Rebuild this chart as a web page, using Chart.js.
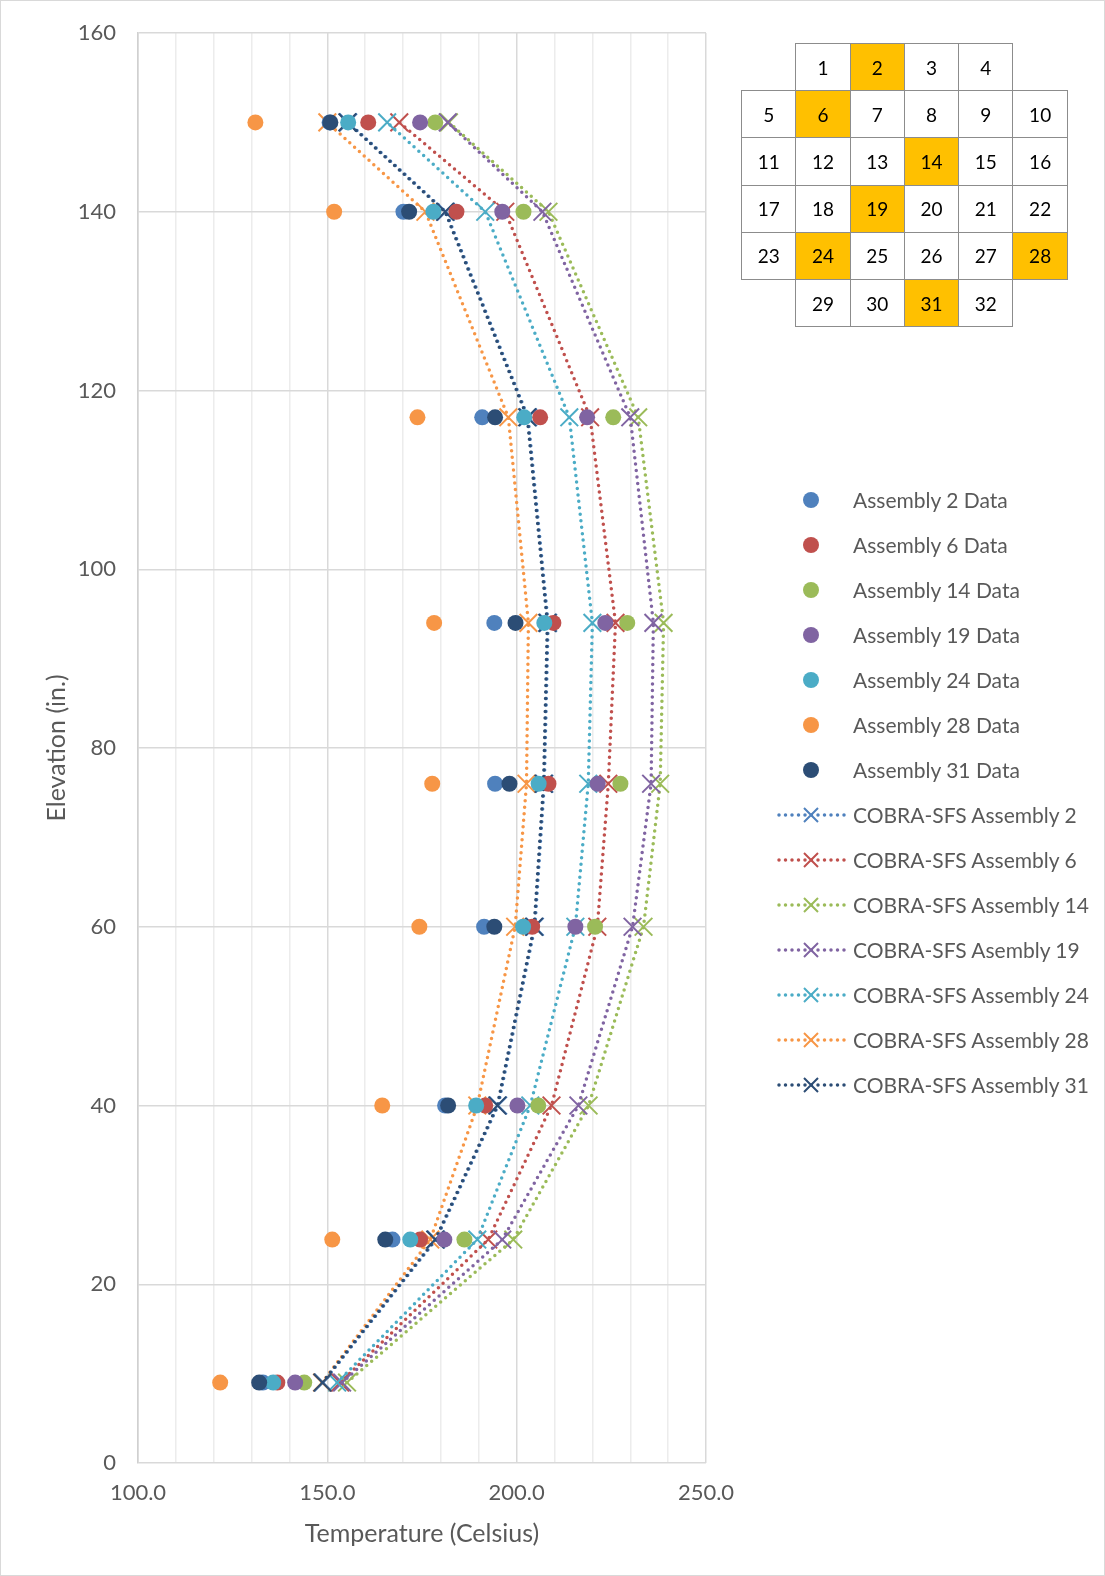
<!DOCTYPE html>
<html>
<head>
<meta charset="utf-8">
<script src="https://cdn.jsdelivr.net/npm/chart.js@4.4.1/dist/chart.umd.min.js"></script>
<style>
html,body{margin:0;padding:0;background:#fff;}
#wrap{position:relative;width:1105px;height:1576px;overflow:hidden;font-family:Lato,"Liberation Sans",sans-serif;}
#c{position:absolute;left:0;top:0;}
#frame{position:absolute;left:0;top:0;width:1105px;height:1576px;box-sizing:border-box;border:1px solid #d9d9d9;pointer-events:none;}
#map{position:absolute;left:741px;top:43px;border-collapse:collapse;font-size:19px;color:#000;}
#map td{width:53.3px;height:46.2px;padding:0;text-align:center;vertical-align:middle;border:1px solid #8c8c8c;background:#fff;}
#map td.e{border:none;background:transparent;}
#map td.h{background:#ffc000;}
#legend{position:absolute;left:775px;top:477px;}
.row{position:relative;height:45px;display:flex;align-items:center;}
.row svg{width:72px;height:24px;flex:none;}
.row span{margin-left:6px;font-size:21px;color:#595959;white-space:nowrap;}
</style>
</head>
<body>
<div id="wrap">
<canvas id="c" width="1105" height="1576"></canvas>
<table id="map"></table>
<div id="legend"></div>
<div id="frame"></div>
</div>
<script>
// ---- data ----
const elevations = [9, 25, 40, 60, 76, 94, 117, 140, 150];

const dataA2  = [133.0, 167.2, 181.1, 191.4, 194.3, 194.1, 190.9, 170.1, 150.6];
const dataA6  = [136.8, 174.5, 191.7, 204.1, 208.4, 209.7, 206.2, 184.1, 160.8];
const dataA14 = [143.9, 186.2, 205.7, 220.7, 227.4, 229.2, 225.5, 201.8, 178.5];
const dataA19 = [141.5, 180.9, 200.2, 215.5, 221.4, 223.4, 218.6, 196.2, 174.5];
const dataA24 = [135.7, 171.9, 189.3, 201.7, 205.8, 207.3, 202.0, 178.0, 155.5];
const dataA28 = [121.7, 151.3, 164.5, 174.3, 177.7, 178.2, 173.8, 151.8, 131.0];
const dataA31 = [132.0, 165.3, 181.9, 194.1, 198.1, 199.7, 194.3, 171.6, 150.8];

const cobraA2  = [148.9, 178.7, 195.1, 204.8, 207.3, 208.3, 203.0, 181.3, 155.5];
const cobraA6  = [153.4, 192.5, 209.2, 221.3, 224.2, 226.1, 219.4, 197.0, 169.0];
const cobraA14 = [155.2, 199.1, 219.0, 233.5, 237.9, 238.8, 232.1, 208.4, 182.1];
const cobraA19 = [153.9, 196.2, 216.3, 230.6, 235.5, 236.1, 230.0, 206.8, 181.8];
const cobraA24 = [152.6, 189.6, 203.6, 215.5, 218.9, 220.0, 213.9, 191.7, 165.8];
const cobraA28 = [148.6, 177.2, 189.6, 199.6, 202.6, 203.1, 197.8, 175.9, 150.0];
const cobraA31 = [148.7, 178.5, 194.9, 204.6, 207.1, 208.1, 202.8, 181.1, 155.3];

const dataLabels  = ["Assembly 2 Data", "Assembly 6 Data", "Assembly 14 Data", "Assembly 19 Data", "Assembly 24 Data", "Assembly 28 Data", "Assembly 31 Data"];
const cobraLabels = ["COBRA-SFS Assembly 2", "COBRA-SFS Assembly 6", "COBRA-SFS Assembly 14", "COBRA-SFS Asembly 19", "COBRA-SFS Assembly 24", "COBRA-SFS Assembly 28", "COBRA-SFS Assembly 31"];
const colors = ["#4f81bd", "#c0504d", "#9bbb59", "#8064a2", "#4bacc6", "#f79646", "#2c4d75"];

const xTickLabels = [100, 150, 200, 250];
const yTicks = [0, 20, 40, 60, 80, 100, 120, 140, 160];

const mapRows = [
  [null, 1, 2, 3, 4, null],
  [5, 6, 7, 8, 9, 10],
  [11, 12, 13, 14, 15, 16],
  [17, 18, 19, 20, 21, 22],
  [23, 24, 25, 26, 27, 28],
  [null, 29, 30, 31, 32, null]
];
const highlighted = [2, 6, 14, 19, 24, 28, 31];

// ---- build ----
const dataSeries = [dataA2, dataA6, dataA14, dataA19, dataA24, dataA28, dataA31];
const cobraSeries = [cobraA2, cobraA6, cobraA14, cobraA19, cobraA24, cobraA28, cobraA31];
const pts = arr => arr.map((t, i) => ({x: t, y: elevations[i]}));

const datasets = [];
dataSeries.forEach((s, i) => {
  datasets.push({
    label: dataLabels[i], data: pts(s), showLine: false,
    pointStyle: 'circle', pointRadius: 8, pointHoverRadius: 8,
    backgroundColor: colors[i], borderColor: colors[i], pointBorderWidth: 0,
    order: 20 - i
  });
});
cobraSeries.forEach((s, i) => {
  datasets.push({
    label: cobraLabels[i], data: pts(s), showLine: true,
    borderColor: colors[i], borderWidth: 3.5, borderDash: [0, 6.5], borderCapStyle: 'round',
    pointStyle: 'crossRot', pointRadius: 12.5, pointHoverRadius: 12.5,
    pointBorderColor: colors[i], pointBackgroundColor: colors[i], pointBorderWidth: 2,
    tension: 0, fill: false, order: 40 - i
  });
});

new Chart(document.getElementById('c'), {
  type: 'scatter',
  data: {datasets},
  options: {
    responsive: false, animation: false,
    layout: {padding: {top: 33, right: 399, bottom: 0, left: 0}},
    plugins: {legend: {display: false}, tooltip: {enabled: false}},
    scales: {
      x: {
        type: 'linear', min: 100, max: 250,
        afterFit: s => { s.height = 113; },
        ticks: {
          stepSize: 10, autoSkip: false, maxRotation: 0, padding: 17,
          color: '#595959', font: {family: 'Lato', size: 22},
          callback: v => xTickLabels.includes(v) ? v.toFixed(1) : ''
        },
        grid: {color: c => (c.tick && c.tick.value % 50 === 0) ? '#d9d9d9' : '#ececec', lineWidth: 1.5, drawTicks: false},
        border: {display: false},
        title: {display: true, text: 'Temperature (Celsius)', color: '#595959', font: {family: 'Lato', size: 25}, padding: {top: 0, bottom: 27}}
      },
      y: {
        type: 'linear', min: 0, max: 160,
        afterFit: s => { s.width = 138; },
        afterBuildTicks: s => { s.ticks = yTicks.map(v => ({value: v})); },
        ticks: {padding: 0, color: '#595959', font: {family: 'Lato', size: 22}},
        grid: {color: '#d9d9d9', lineWidth: 1.5, drawTicks: true, tickLength: 22, tickColor: 'rgba(0,0,0,0)'},
        border: {display: true, color: '#d0d0d0', width: 1.5},
        title: {display: true, text: 'Elevation (in.)', color: '#595959', font: {family: 'Lato', size: 25}, padding: {top: 42, bottom: 0}}
      }
    }
  }
});

// ---- assembly map ----
const tbl = document.getElementById('map');
mapRows.forEach(r => {
  const tr = document.createElement('tr');
  r.forEach(n => {
    const td = document.createElement('td');
    if (n === null) td.className = 'e';
    else { td.textContent = n; if (highlighted.includes(n)) td.className = 'h'; }
    tr.appendChild(td);
  });
  tbl.appendChild(tr);
});

// ---- legend ----
const lg = document.getElementById('legend');
const svgNS = 'http://www.w3.org/2000/svg';
function addRow(label, color, cobra) {
  const row = document.createElement('div'); row.className = 'row';
  let svg = '<svg xmlns="' + svgNS + '" viewBox="0 0 72 24">';
  if (cobra) {
    svg += '<line x1="4" y1="12" x2="70" y2="12" stroke="' + color + '" stroke-width="3.5" stroke-linecap="round" stroke-dasharray="0 6.5"/>';
    svg += '<path d="M29 5 L43 19 M43 5 L29 19" stroke="' + color + '" stroke-width="2"/>';
  } else {
    svg += '<circle cx="36" cy="12" r="8" fill="' + color + '"/>';
  }
  svg += '</svg>';
  row.innerHTML = svg;
  const sp = document.createElement('span'); sp.textContent = label;
  row.appendChild(sp);
  lg.appendChild(row);
}
dataLabels.forEach((l, i) => addRow(l, colors[i], false));
cobraLabels.forEach((l, i) => addRow(l, colors[i], true));
</script>
</body>
</html>
